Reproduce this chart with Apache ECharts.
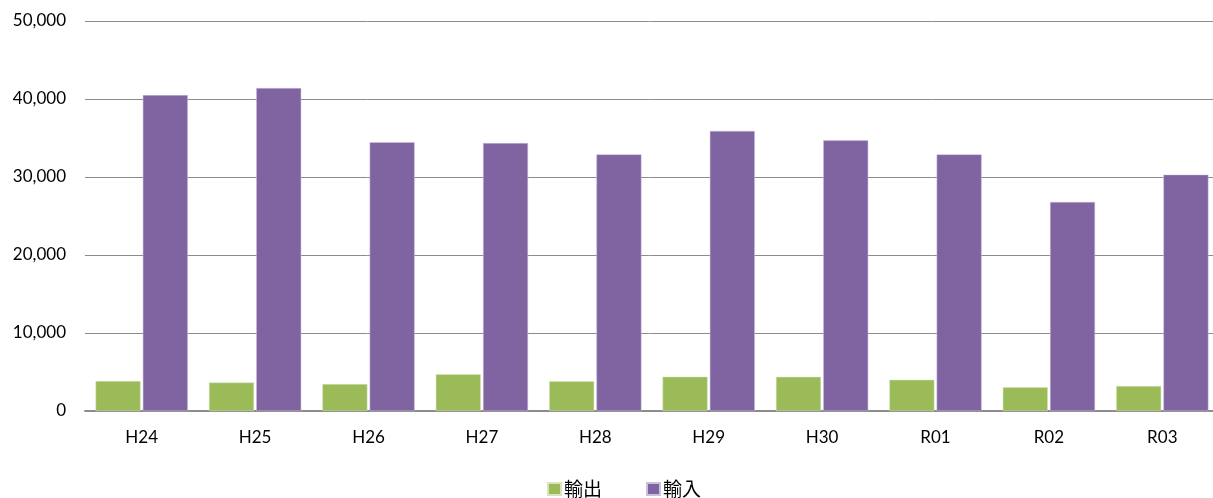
<!DOCTYPE html>
<html>
<head>
<meta charset="utf-8">
<script src="https://cdn.jsdelivr.net/npm/echarts@6/dist/echarts.min.js"></script>
<style>
html,body{margin:0;padding:0;background:#fff;}
#chart{width:1213px;height:498px;}
</style>
</head>
<body>
<div id="chart"></div>
<script>
const categories = ['H24','H25','H26','H27','H28','H29','H30','R01','R02','R03'];
const exportValues = [3850, 3650, 3450, 4700, 3800, 4400, 4380, 4000, 3050, 3200];
const importValues = [40500, 41400, 34450, 34350, 32900, 35900, 34700, 32900, 26800, 30300];
const seriesNames = ['輸出', '輸入'];

const chart = echarts.init(document.getElementById('chart'), null, {renderer: 'canvas'});
const fontFam = 'Lato, "Noto Sans CJK JP", sans-serif';
chart.setOption({
  animation: false,
  grid: {left: 85, width: 1134, top: 21, bottom: 87, containLabel: false, outerBoundsMode: 'none'},
  legend: {
    data: seriesNames,
    top: 479,
    left: 547,
    padding: 0,
    itemWidth: 13,
    itemHeight: 12,
    itemGap: 44,
    icon: 'rect',
    textStyle: {fontFamily: '"Noto Sans CJK JP", sans-serif', fontSize: 19, lineHeight: 20, color: '#000', padding: [0,0,0,-2]}
  },
  xAxis: {
    type: 'category',
    data: categories,
    axisTick: {show: false},
    axisLine: {lineStyle: {color: '#8c8c8c', width: 2}},
    axisLabel: {fontFamily: fontFam, fontSize: 17, color: '#000', margin: 18}
  },
  yAxis: {
    type: 'value',
    min: 0, max: 50000, interval: 10000,
    axisLine: {show: false},
    axisTick: {show: false},
    splitLine: {lineStyle: {color: '#8c8c8c', width: 1}},
    axisLabel: {
      fontFamily: fontFam, fontSize: 17, color: '#000', margin: 19,
      formatter: v => v.toLocaleString('en-US')
    }
  },
  series: [
    {name: seriesNames[0], type: 'bar', data: exportValues, barWidth: 45, barGap: '5%',
     itemStyle: {color: '#9BBB59', borderColor: '#d7e4bd', borderWidth: 0.5}},
    {name: seriesNames[1], type: 'bar', data: importValues, barWidth: 45,
     itemStyle: {color: '#8064A2', borderColor: '#ccc1da', borderWidth: 0.5}}
  ]
});
</script>
</body>
</html>
